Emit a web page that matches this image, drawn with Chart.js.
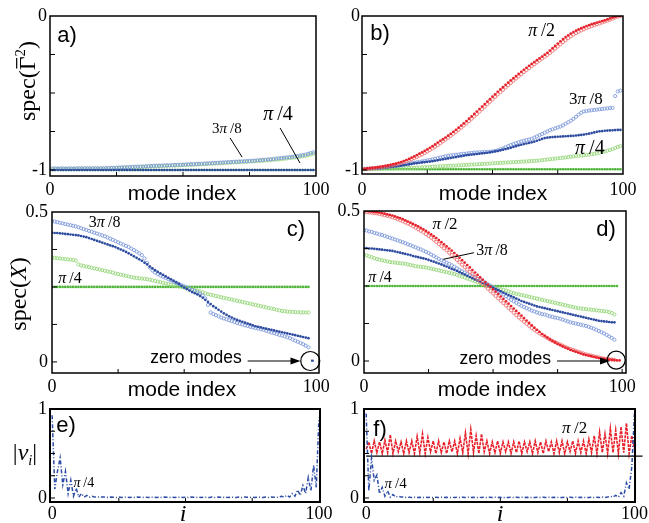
<!DOCTYPE html>
<html><head><meta charset="utf-8">
<script src="https://cdn.jsdelivr.net/npm/chart.js@4.4.0/dist/chart.umd.min.js"></script>
<style>
html,body{margin:0;padding:0;background:#fff;}
#wrap{position:relative;width:649px;height:523px;overflow:hidden;background:#fff;}
canvas{position:absolute;left:0;top:0;}
</style></head><body><div id="wrap">
<canvas id="ca" width="649" height="523"></canvas>
<canvas id="cb" width="649" height="523"></canvas>
<canvas id="cc" width="649" height="523"></canvas>
<canvas id="cd" width="649" height="523"></canvas>
<canvas id="ce" width="649" height="523"></canvas>
<canvas id="cf" width="649" height="523"></canvas>
</div>
<script>
// ---------- DATA ----------
// panel a) spec(Gamma^2), x = mode index (open markers start at 1)
const aOpenBlue = [
-0.990,-0.990,-0.990,-0.990,-0.990,-0.990,-0.990,-0.990,-0.990,-0.990,
-0.989,-0.989,-0.989,-0.989,-0.989,-0.989,-0.989,-0.989,-0.989,-0.989,
-0.988,-0.987,-0.987,-0.986,-0.985,-0.984,-0.983,-0.982,-0.982,-0.981,
-0.980,-0.979,-0.978,-0.978,-0.977,-0.976,-0.975,-0.974,-0.973,-0.972,
-0.972,-0.971,-0.970,-0.969,-0.969,-0.968,-0.967,-0.966,-0.966,-0.965,
-0.964,-0.963,-0.962,-0.962,-0.961,-0.960,-0.959,-0.958,-0.957,-0.956,
-0.955,-0.954,-0.953,-0.952,-0.951,-0.950,-0.949,-0.948,-0.947,-0.946,
-0.945,-0.944,-0.943,-0.942,-0.941,-0.940,-0.939,-0.937,-0.936,-0.934,
-0.933,-0.931,-0.930,-0.928,-0.926,-0.924,-0.922,-0.920,-0.918,-0.916,
-0.914,-0.912,-0.909,-0.906,-0.903,-0.900,-0.895,-0.890,-0.885];
const aOpenGreen = [
-0.992,-0.992,-0.992,-0.992,-0.992,-0.992,-0.992,-0.992,-0.992,-0.992,
-0.991,-0.991,-0.991,-0.991,-0.991,-0.991,-0.991,-0.991,-0.991,-0.991,
-0.990,-0.990,-0.989,-0.989,-0.988,-0.987,-0.986,-0.986,-0.985,-0.984,
-0.983,-0.982,-0.982,-0.981,-0.980,-0.979,-0.978,-0.977,-0.977,-0.976,
-0.975,-0.974,-0.974,-0.973,-0.972,-0.971,-0.971,-0.970,-0.969,-0.968,
-0.968,-0.967,-0.966,-0.965,-0.965,-0.964,-0.963,-0.962,-0.961,-0.960,
-0.959,-0.958,-0.957,-0.956,-0.955,-0.954,-0.953,-0.952,-0.951,-0.950,
-0.949,-0.948,-0.947,-0.946,-0.945,-0.944,-0.943,-0.942,-0.941,-0.940,
-0.938,-0.937,-0.935,-0.934,-0.932,-0.931,-0.929,-0.927,-0.925,-0.923,
-0.921,-0.919,-0.917,-0.914,-0.911,-0.908,-0.904,-0.900,-0.895];
const aFilledBlue = [
-1,-1,-1,-1,-1,-1,-1,-1,-1,-1,-1,-1,-1,-1,-1,-1,-1,-1,-1,-1,
-1,-1,-1,-1,-1,-1,-1,-1,-1,-1,-1,-1,-1,-1,-1,-1,-1,-1,-1,-1,
-1,-1,-1,-1,-1,-1,-1,-1,-1,-1,-1,-1,-1,-1,-1,-1,-1,-1,-1,-1,
-1,-1,-1,-1,-1,-1,-1,-1,-1,-1,-1,-1,-1,-1,-1,-1,-1,-1,-1,-1,
-1,-1,-1,-1,-1,-1,-1,-1,-1,-1,-1,-1,-1,-1,-1,-1,-1,-1,-1,-1];
const aFilledGreen = [
-1,-1,-1,-1,-1,-1,-1,-1,-1,-1,-1,-1,-1,-1,-1,-1,-1,-1,-1,-1,
-1,-1,-1,-1,-1,-1,-1,-1,-1,-1,-1,-1,-1,-1,-1,-1,-1,-1,-1,-1,
-1,-1,-1,-1,-1,-1,-1,-1,-1,-1,-1,-1,-1,-1,-1,-1,-1,-1,-1,-1,
-1,-1,-1,-1,-1,-1,-1,-1,-1,-1,-1,-1,-1,-1,-1,-1,-1,-1,-1,-1,
-1,-1,-1,-1,-1,-1,-1,-1,-1,-1,-1,-1,-1,-1,-1,-1,-1,-1,-1,-1];

// panel b)
const bRedFilled = [
-0.992,-0.990,-0.988,-0.986,-0.984,-0.982,-0.979,-0.976,-0.973,-0.970,
-0.966,-0.962,-0.958,-0.953,-0.948,-0.942,-0.935,-0.928,-0.920,-0.912,
-0.903,-0.894,-0.885,-0.876,-0.866,-0.856,-0.845,-0.834,-0.822,-0.810,
-0.800,-0.789,-0.777,-0.765,-0.752,-0.739,-0.725,-0.711,-0.697,-0.682,
-0.667,-0.652,-0.636,-0.620,-0.604,-0.588,-0.572,-0.556,-0.540,-0.524,
-0.508,-0.492,-0.477,-0.462,-0.447,-0.432,-0.418,-0.404,-0.390,-0.376,
-0.362,-0.349,-0.336,-0.323,-0.311,-0.299,-0.287,-0.275,-0.263,-0.251,
-0.239,-0.224,-0.209,-0.194,-0.179,-0.164,-0.150,-0.137,-0.125,-0.114,
-0.104,-0.095,-0.087,-0.079,-0.072,-0.065,-0.059,-0.053,-0.048,-0.043,
-0.038,-0.033,-0.028,-0.022,-0.016,-0.010,-0.005,0,0];
const bRedOpen = [
-0.994,-0.993,-0.991,-0.989,-0.987,-0.985,-0.983,-0.980,-0.977,-0.974,
-0.971,-0.967,-0.963,-0.959,-0.954,-0.949,-0.943,-0.937,-0.930,-0.923,
-0.915,-0.907,-0.898,-0.889,-0.880,-0.870,-0.860,-0.849,-0.838,-0.826,
-0.814,-0.802,-0.790,-0.778,-0.765,-0.752,-0.739,-0.725,-0.711,-0.697,
-0.682,-0.667,-0.652,-0.637,-0.621,-0.605,-0.589,-0.573,-0.557,-0.541,
-0.525,-0.509,-0.494,-0.479,-0.464,-0.449,-0.434,-0.420,-0.406,-0.392,
-0.378,-0.364,-0.351,-0.338,-0.325,-0.313,-0.301,-0.289,-0.277,-0.265,
-0.253,-0.240,-0.226,-0.212,-0.198,-0.184,-0.170,-0.157,-0.144,-0.132,
-0.121,-0.111,-0.102,-0.094,-0.086,-0.079,-0.072,-0.066,-0.060,-0.054,
-0.048,-0.042,-0.036,-0.030,-0.024,-0.017,-0.010,-0.004,0];
const bBlueOpen = [
-0.992,-0.991,-0.990,-0.989,-0.988,-0.987,-0.985,-0.983,-0.981,-0.979,
-0.977,-0.975,-0.973,-0.971,-0.968,-0.965,-0.962,-0.959,-0.956,-0.953,
-0.950,-0.947,-0.944,-0.941,-0.938,-0.935,-0.931,-0.927,-0.923,-0.919,
-0.915,-0.911,-0.907,-0.905,-0.903,-0.901,-0.899,-0.897,-0.895,-0.893,
-0.891,-0.889,-0.887,-0.886,-0.885,-0.884,-0.883,-0.882,-0.881,-0.879,
-0.876,-0.872,-0.866,-0.860,-0.852,-0.845,-0.838,-0.832,-0.826,-0.820,
-0.815,-0.810,-0.806,-0.802,-0.798,-0.790,-0.782,-0.774,-0.766,-0.758,
-0.750,-0.742,-0.736,-0.730,-0.724,-0.718,-0.710,-0.700,-0.690,-0.680,
-0.668,-0.655,-0.640,-0.628,-0.620,-0.617,-0.614,-0.612,-0.610,-0.608,
-0.606,-0.604,-0.602,-0.600,-0.598,-0.596,-0.520,-0.490,-0.485];
const bBlueFilled = [
-0.995,-0.994,-0.993,-0.992,-0.991,-0.990,-0.988,-0.986,-0.984,-0.982,
-0.980,-0.978,-0.976,-0.974,-0.972,-0.969,-0.966,-0.963,-0.960,-0.957,
-0.955,-0.953,-0.951,-0.949,-0.947,-0.945,-0.943,-0.940,-0.937,-0.934,
-0.931,-0.928,-0.925,-0.922,-0.919,-0.916,-0.913,-0.910,-0.907,-0.904,
-0.902,-0.900,-0.898,-0.896,-0.894,-0.892,-0.890,-0.888,-0.885,-0.882,
-0.879,-0.876,-0.872,-0.868,-0.864,-0.860,-0.856,-0.850,-0.845,-0.840,
-0.836,-0.832,-0.828,-0.824,-0.820,-0.816,-0.810,-0.804,-0.798,-0.793,
-0.790,-0.788,-0.786,-0.785,-0.784,-0.783,-0.782,-0.781,-0.780,-0.779,
-0.778,-0.776,-0.774,-0.772,-0.770,-0.767,-0.764,-0.760,-0.756,-0.752,
-0.749,-0.747,-0.745,-0.744,-0.743,-0.742,-0.741,-0.740,-0.740];
const bGreenOpen = [
-0.995,-0.995,-0.994,-0.994,-0.993,-0.993,-0.992,-0.992,-0.991,-0.991,
-0.990,-0.990,-0.989,-0.989,-0.988,-0.988,-0.987,-0.987,-0.986,-0.986,
-0.985,-0.984,-0.983,-0.982,-0.981,-0.980,-0.979,-0.978,-0.977,-0.976,
-0.975,-0.974,-0.973,-0.972,-0.972,-0.971,-0.970,-0.969,-0.968,-0.967,
-0.966,-0.965,-0.964,-0.963,-0.962,-0.961,-0.960,-0.959,-0.958,-0.957,
-0.956,-0.955,-0.954,-0.953,-0.952,-0.951,-0.950,-0.949,-0.948,-0.947,
-0.946,-0.945,-0.944,-0.943,-0.942,-0.941,-0.940,-0.938,-0.936,-0.934,
-0.932,-0.930,-0.928,-0.926,-0.924,-0.922,-0.920,-0.918,-0.916,-0.914,
-0.912,-0.910,-0.908,-0.906,-0.904,-0.902,-0.900,-0.898,-0.895,-0.892,
-0.888,-0.884,-0.880,-0.875,-0.870,-0.864,-0.857,-0.850,-0.845];
const bGreenFilled = [
-0.995,-0.995,-0.995,-0.995,-0.995,-0.995,-0.995,-0.995,-0.995,-0.995,
-0.995,-0.995,-0.995,-0.995,-0.995,-0.995,-0.995,-0.995,-0.995,-0.995,
-0.995,-0.995,-0.995,-0.995,-0.995,-0.995,-0.995,-0.995,-0.995,-0.995,
-0.995,-0.995,-0.995,-0.995,-0.995,-0.995,-0.995,-0.995,-0.995,-0.995,
-0.995,-0.995,-0.995,-0.995,-0.995,-0.995,-0.995,-0.995,-0.995,-0.995,
-0.995,-0.995,-0.995,-0.995,-0.995,-0.995,-0.995,-0.995,-0.995,-0.995,
-0.995,-0.995,-0.995,-0.995,-0.995,-0.995,-0.995,-0.995,-0.995,-0.995,
-0.995,-0.995,-0.995,-0.995,-0.995,-0.995,-0.995,-0.995,-0.995,-0.995,
-0.995,-0.995,-0.995,-0.995,-0.995,-0.995,-0.995,-0.995,-0.995,-0.995,
-0.995,-0.995,-0.995,-0.995,-0.995,-0.995,-0.995,-0.995,-0.995,-0.995];

// panel c) spec(X), x = 0..97
const cBlueOpen = [
0.470,0.468,0.466,0.464,0.462,0.460,0.458,0.456,0.454,0.452,
0.449,0.446,0.443,0.440,0.437,0.434,0.431,0.428,0.425,0.422,
0.419,0.415,0.411,0.407,0.403,0.399,0.395,0.391,0.387,0.383,
0.378,0.373,0.368,0.362,0.356,0.345,0.330,0.315,0.305,0.298,
0.293,0.288,0.284,0.280,0.276,0.272,0.268,0.264,0.260,0.256,
0.252,0.248,0.244,0.240,0.236,0.232,0.228,0.222,0.212,0.190,
0.165,0.160,0.156,0.152,0.148,0.145,0.142,0.139,0.136,0.133,
0.130,0.127,0.125,0.122,0.120,0.117,0.115,0.113,0.111,0.109,
0.107,0.104,0.101,0.098,0.096,0.093,0.090,0.088,0.085,0.082,
0.079,0.075,0.071,0.067,0.063,0.059,0.054,0.049];
const cBlueFilled = [
0.431,0.430,0.430,0.429,0.428,0.427,0.426,0.425,0.424,0.423,
0.422,0.420,0.418,0.416,0.413,0.410,0.407,0.404,0.401,0.398,
0.395,0.392,0.389,0.386,0.383,0.379,0.375,0.371,0.367,0.362,
0.357,0.352,0.347,0.342,0.337,0.331,0.325,0.318,0.312,0.306,
0.300,0.295,0.290,0.285,0.280,0.275,0.270,0.265,0.260,0.254,
0.248,0.243,0.238,0.233,0.229,0.225,0.220,0.214,0.207,0.200,
0.193,0.186,0.180,0.174,0.168,0.162,0.157,0.152,0.148,0.144,
0.140,0.137,0.134,0.131,0.128,0.125,0.122,0.119,0.117,0.115,
0.113,0.111,0.109,0.107,0.105,0.103,0.101,0.099,0.097,0.095,
0.093,0.091,0.089,0.087,0.085,0.083,0.081,0.079];
const cGreenOpen = [
0.348,0.347,0.346,0.345,0.344,0.343,0.342,0.341,0.340,0.338,
0.325,0.322,0.320,0.318,0.316,0.314,0.312,0.310,0.308,0.306,
0.304,0.302,0.300,0.298,0.295,0.293,0.291,0.289,0.287,0.285,
0.283,0.281,0.280,0.279,0.278,0.277,0.276,0.274,0.272,0.270,
0.268,0.266,0.264,0.262,0.260,0.258,0.256,0.254,0.252,0.250,
0.248,0.246,0.244,0.242,0.240,0.238,0.235,0.232,0.229,0.226,
0.224,0.222,0.220,0.218,0.216,0.214,0.212,0.210,0.208,0.206,
0.204,0.202,0.200,0.198,0.196,0.194,0.192,0.190,0.188,0.186,
0.184,0.182,0.180,0.178,0.176,0.174,0.172,0.170,0.169,0.168,
0.167,0.167,0.166,0.166,0.165,0.165,0.165,0.165];
const cGreenFilled = [
0.25,0.25,0.25,0.25,0.25,0.25,0.25,0.25,0.25,0.25,0.25,0.25,0.25,0.25,0.25,0.25,0.25,0.25,0.25,0.25,
0.25,0.25,0.25,0.25,0.25,0.25,0.25,0.25,0.25,0.25,0.25,0.25,0.25,0.25,0.25,0.25,0.25,0.25,0.25,0.25,
0.25,0.25,0.25,0.25,0.25,0.25,0.25,0.25,0.25,0.25,0.25,0.25,0.25,0.25,0.25,0.25,0.25,0.25,0.25,0.25,
0.25,0.25,0.25,0.25,0.25,0.25,0.25,0.25,0.25,0.25,0.25,0.25,0.25,0.25,0.25,0.25,0.25,0.25,0.25,0.25,
0.25,0.25,0.25,0.25,0.25,0.25,0.25,0.25,0.25,0.25,0.25,0.25,0.25,0.25,0.25,0.25,0.25,0.25];
const cZeroModeIdx = [98, 99];
const cZeroModeVal = [0.004, 0.004];

// panel d)
const dRedFilled = [
0.500,0.500,0.499,0.498,0.497,0.496,0.495,0.493,0.491,0.489,
0.487,0.485,0.482,0.479,0.476,0.473,0.469,0.465,0.461,0.457,
0.453,0.449,0.444,0.439,0.434,0.428,0.422,0.416,0.410,0.403,
0.396,0.389,0.382,0.375,0.368,0.360,0.352,0.344,0.336,0.328,
0.320,0.312,0.303,0.295,0.287,0.279,0.271,0.263,0.255,0.247,
0.239,0.231,0.223,0.215,0.207,0.199,0.191,0.183,0.175,0.167,
0.159,0.151,0.143,0.135,0.127,0.119,0.111,0.104,0.097,0.090,
0.084,0.078,0.072,0.067,0.062,0.057,0.053,0.049,0.045,0.041,
0.037,0.034,0.031,0.028,0.025,0.022,0.020,0.018,0.016,0.014,
0.012,0.010,0.008,0.007,0.006,0.005,0.004,0.003,0.002,0.002];
const dRedOpen = [
0.497,0.496,0.495,0.494,0.493,0.492,0.490,0.488,0.486,0.484,
0.482,0.479,0.476,0.473,0.470,0.466,0.462,0.458,0.454,0.449,
0.444,0.439,0.434,0.429,0.423,0.417,0.411,0.404,0.397,0.390,
0.383,0.376,0.369,0.361,0.353,0.345,0.337,0.329,0.321,0.313,
0.305,0.297,0.289,0.281,0.273,0.265,0.257,0.249,0.241,0.233,
0.225,0.217,0.209,0.201,0.193,0.185,0.177,0.169,0.161,0.153,
0.145,0.138,0.131,0.124,0.117,0.110,0.104,0.098,0.092,0.087,
0.082,0.077,0.072,0.067,0.063,0.059,0.055,0.051,0.047,0.043,
0.040,0.037,0.034,0.031,0.028,0.025,0.022,0.020,0.018,0.016,
0.014,0.012,0.010,0.008,0.007,0.006,0.005,0.004];
const dBlueOpen = [
0.437,0.435,0.432,0.430,0.427,0.425,0.422,0.420,0.417,0.414,
0.411,0.408,0.405,0.402,0.399,0.396,0.393,0.389,0.386,0.382,
0.379,0.375,0.372,0.368,0.364,0.360,0.355,0.350,0.345,0.340,
0.336,0.332,0.328,0.324,0.319,0.314,0.309,0.304,0.299,0.295,
0.290,0.286,0.282,0.278,0.274,0.270,0.266,0.261,0.256,0.251,
0.246,0.240,0.234,0.228,0.222,0.216,0.210,0.204,0.199,0.194,
0.189,0.184,0.180,0.176,0.172,0.168,0.165,0.162,0.159,0.156,
0.155,0.152,0.149,0.147,0.145,0.143,0.141,0.138,0.135,0.132,
0.129,0.127,0.125,0.123,0.121,0.119,0.117,0.114,0.111,0.108,
0.104,0.100,0.096,0.092,0.087,0.082,0.077,0.071];
const dBlueFilled = [
0.376,0.376,0.375,0.375,0.374,0.373,0.372,0.371,0.370,0.369,
0.368,0.367,0.365,0.363,0.361,0.359,0.357,0.355,0.353,0.350,
0.348,0.346,0.344,0.342,0.340,0.337,0.334,0.331,0.328,0.325,
0.322,0.318,0.315,0.311,0.307,0.304,0.300,0.296,0.292,0.288,
0.284,0.280,0.276,0.272,0.268,0.264,0.260,0.256,0.252,0.248,
0.244,0.240,0.236,0.232,0.228,0.224,0.220,0.216,0.212,0.208,
0.204,0.200,0.197,0.194,0.191,0.188,0.185,0.182,0.180,0.178,
0.176,0.174,0.172,0.170,0.168,0.166,0.164,0.162,0.160,0.158,
0.156,0.154,0.152,0.150,0.148,0.146,0.144,0.142,0.140,0.138,
0.136,0.134,0.133,0.132,0.131,0.130,0.129,0.129];
const dGreenOpen = [
0.355,0.352,0.349,0.346,0.343,0.340,0.338,0.336,0.334,0.332,
0.330,0.329,0.328,0.327,0.326,0.325,0.324,0.322,0.320,0.318,
0.316,0.315,0.314,0.313,0.312,0.310,0.308,0.306,0.304,0.302,
0.300,0.298,0.296,0.294,0.292,0.290,0.287,0.284,0.281,0.278,
0.275,0.272,0.269,0.266,0.263,0.260,0.257,0.254,0.251,0.248,
0.245,0.243,0.241,0.239,0.237,0.235,0.232,0.229,0.226,0.224,
0.222,0.220,0.218,0.216,0.214,0.212,0.210,0.208,0.206,0.204,
0.202,0.200,0.198,0.196,0.194,0.192,0.190,0.188,0.186,0.184,
0.182,0.180,0.178,0.176,0.175,0.174,0.173,0.172,0.171,0.170,
0.169,0.168,0.167,0.166,0.165,0.163,0.160,0.155];
const dGreenFilled = [
0.25,0.25,0.25,0.25,0.25,0.25,0.25,0.25,0.25,0.25,0.25,0.25,0.25,0.25,0.25,0.25,0.25,0.25,0.25,0.25,
0.25,0.25,0.25,0.25,0.25,0.25,0.25,0.25,0.25,0.25,0.25,0.25,0.25,0.25,0.25,0.25,0.25,0.25,0.25,0.25,
0.25,0.25,0.25,0.25,0.25,0.25,0.25,0.25,0.25,0.25,0.25,0.25,0.25,0.25,0.25,0.25,0.25,0.25,0.25,0.25,
0.25,0.25,0.25,0.25,0.25,0.25,0.25,0.25,0.25,0.25,0.25,0.25,0.25,0.25,0.25,0.25,0.25,0.25,0.25,0.25,
0.25,0.25,0.25,0.25,0.25,0.25,0.25,0.25,0.25,0.25,0.25,0.25,0.25,0.25,0.25,0.25,0.25,0.25];

// panel e) |v_i| for pi/4, i = 0..100
const eBlue = [
0.93,0.10,0.30,0.45,0.15,0.30,0.05,0.20,0.02,0.11,
0.01,0.05,0.01,0.03,0.01,0.02,0.01,0.01,0.01,0.01,
0.010,0.006,0.010,0.008,0.006,0.010,0.006,0.010,0.008,0.006,
0.010,0.006,0.010,0.008,0.006,0.010,0.006,0.010,0.008,0.006,
0.010,0.006,0.010,0.008,0.006,0.010,0.006,0.010,0.008,0.006,
0.010,0.006,0.010,0.008,0.006,0.010,0.006,0.010,0.008,0.006,
0.010,0.006,0.010,0.008,0.006,0.010,0.006,0.010,0.008,0.006,
0.010,0.006,0.010,0.008,0.006,0.010,0.006,0.010,0.008,0.006,
0.010,0.006,0.010,0.008,0.006,0.01,0.02,0.01,0.03,0.01,
0.05,0.02,0.09,0.03,0.14,0.05,0.23,0.08,0.37,0.12,
0.90];
// panel f) |v_i| for pi/4 (blue) and pi/2 (red)
const fBlue = [
0.95,0.08,0.45,0.20,0.26,0.05,0.12,0.02,0.08,0.01,
0.04,0.01,0.02,0.01,0.01,0.005,0.008,0.005,0.008,0.005,
0.008,0.005,0.008,0.005,0.008,0.005,0.008,0.005,0.008,0.005,
0.008,0.005,0.008,0.005,0.008,0.005,0.008,0.005,0.008,0.005,
0.008,0.005,0.008,0.005,0.008,0.005,0.008,0.005,0.008,0.005,
0.008,0.005,0.008,0.005,0.008,0.005,0.008,0.005,0.008,0.005,
0.008,0.005,0.008,0.005,0.008,0.005,0.008,0.005,0.008,0.005,
0.008,0.005,0.008,0.005,0.008,0.005,0.008,0.005,0.008,0.005,
0.008,0.005,0.008,0.005,0.008,0.005,0.008,0.005,0.01,0.005,
0.01,0.02,0.01,0.03,0.01,0.06,0.02,0.17,0.10,0.35,
0.95];
const fRed = [
0.55,0.63,0.50,0.64,0.51,0.63,0.50,0.65,0.51,0.71,
0.50,0.64,0.52,0.63,0.50,0.64,0.51,0.64,0.50,0.69,
0.51,0.72,0.50,0.68,0.52,0.64,0.50,0.64,0.51,0.63,
0.50,0.64,0.52,0.64,0.50,0.67,0.51,0.73,0.50,0.77,
0.51,0.70,0.50,0.72,0.52,0.64,0.50,0.63,0.51,0.64,
0.50,0.63,0.52,0.63,0.50,0.63,0.51,0.64,0.50,0.63,
0.52,0.63,0.50,0.64,0.51,0.63,0.50,0.64,0.52,0.63,
0.50,0.64,0.51,0.64,0.50,0.63,0.52,0.64,0.50,0.64,
0.51,0.64,0.50,0.66,0.51,0.70,0.50,0.74,0.51,0.72,
0.50,0.78,0.51,0.76,0.50,0.80,0.51,0.84,0.50,0.70,
0.55];
const fHalfLevel = 0.47;

// tick values
const xTickVals = [0, 25, 50, 75, 100];
const xTickLabels = {0: '0', 100: '100'};
const ySpecGTicks = [-1, -0.75, -0.5, -0.25, 0];
const ySpecGLabels = {'-1': '-1', '0': '0'};
const ySpecXTicks = [0, 0.125, 0.25, 0.375, 0.5];
const ySpecXLabels = {'0': '0', '0.5': '0.5'};
const yVTicks = [0, 0.25, 0.5, 0.75, 1];
const yVLabels = {'0': '0', '1': '1'};

// ---------- RENDERING ----------
const SERIF = '"Liberation Serif","Times New Roman",serif';
const SANS = '"Liberation Sans",Arial,Helvetica,sans-serif';
const C = {blueF:'#2d4b9f', blueO:'#7a96da', greenF:'#4fb63a', greenO:'#93d677', redF:'#e6212b', redO:'#ef6b6b'};

function pts(vals, x0){ return vals.map((v,i)=>({x:i+x0, y:v})); }
function dots(vals, x0, color){
  return {data:pts(vals,x0), showLine:false, pointStyle:'circle', pointRadius:1.35,
    pointBorderWidth:0, pointBackgroundColor:color, pointBorderColor:color};
}
function rings(vals, x0, color){
  return {data:pts(vals,x0), showLine:false, pointStyle:'circle', pointRadius:1.6,
    pointBorderWidth:0.85, pointBackgroundColor:'rgba(0,0,0,0)', pointBorderColor:color};
}
function curve(vals, color, dash, w){
  return {data:pts(vals,0), showLine:true, pointRadius:0, borderColor:color, borderWidth:w,
    borderDash:dash, tension:0, fill:false};
}

function rich(ctx, parts, cx, cy, size, rot){
  ctx.save();
  ctx.translate(cx, cy); if (rot) ctx.rotate(rot);
  ctx.fillStyle = '#000'; ctx.textBaseline = 'alphabetic'; ctx.textAlign = 'left';
  const fonts = parts.map(p => (p.i ? 'italic ' : '') + (size*(p.s||1)) + 'px ' + (p.f||SERIF));
  let w = 0;
  const ws = parts.map((p,k) => { ctx.font = fonts[k]; const m = ctx.measureText(p.t).width; w += m; return m; });
  let x = -w/2; const base = size*0.33;
  parts.forEach((p,k) => {
    ctx.font = fonts[k];
    ctx.fillText(p.t, x, base + (p.dy||0)*size);
    if (p.bar) { ctx.strokeStyle='#000'; ctx.lineWidth = 1.2; ctx.beginPath();
      ctx.moveTo(x+size*0.08, base - size*0.76); ctx.lineTo(x+ws[k]-size*0.06, base - size*0.76); ctx.stroke(); }
    x += ws[k];
  });
  ctx.restore();
}
function pi(pre, post){ const a=[]; if(pre) a.push({t:pre}); a.push({t:'\u03C0', i:true}); a.push({t:'\u2009/'+post}); return a; }
function sans(ctx, s, px, py, size, align){
  ctx.save(); ctx.fillStyle='#000'; ctx.font = size+'px '+SANS; ctx.textAlign = align||'center';
  ctx.textBaseline='middle'; ctx.fillText(s, px, py); ctx.restore();
}
function seg(ctx, x1, y1, x2, y2, w){ ctx.save(); ctx.strokeStyle='#000'; ctx.lineWidth=w||1; ctx.beginPath(); ctx.moveTo(x1,y1); ctx.lineTo(x2,y2); ctx.stroke(); ctx.restore(); }
function arrow(ctx, x1, x2, y){
  seg(ctx, x1, y, x2-6, y, 1.2);
  ctx.save(); ctx.fillStyle='#000'; ctx.beginPath(); ctx.moveTo(x2, y); ctx.lineTo(x2-10, y-3.5); ctx.lineTo(x2-10, y+3.5); ctx.closePath(); ctx.fill(); ctx.restore();
}
function circ(ctx, cx, cy, r){ ctx.save(); ctx.strokeStyle='#000'; ctx.lineWidth=1.2; ctx.beginPath(); ctx.arc(cx,cy,r,0,Math.PI*2); ctx.stroke(); ctx.restore(); }

function makeChart(p){
  const W = 649, H = 523, yw = 44, xh = 24;
  const lab = (m, v) => { for (const k in m) { if (Math.abs(parseFloat(k) - v) < 1e-9) return m[k]; } return ''; };
  const frame = {
    id: 'frame'+p.id,
    afterDraw(chart){
      const ctx = chart.ctx, a = chart.chartArea, xs = chart.scales.x, ys = chart.scales.y;
      ctx.save();
      ctx.strokeStyle = '#000'; ctx.lineWidth = p.fw;
      ctx.strokeRect(a.left, a.top, a.right - a.left, a.bottom - a.top);
      ctx.lineWidth = 1;
      p.xTicks.forEach(v => { const px = xs.getPixelForValue(v);
        if (px - a.left < 3 || a.right - px < 3) return;
        ctx.beginPath(); ctx.moveTo(px, a.bottom); ctx.lineTo(px, a.bottom - 4); ctx.stroke(); });
      p.yTicks.forEach(v => { const py = ys.getPixelForValue(v);
        if (py - a.top < 3 || a.bottom - py < 3) return;
        ctx.beginPath(); ctx.moveTo(a.left, py); ctx.lineTo(a.left + 5, py); ctx.stroke(); });
      ctx.restore();
      p.draw(ctx, v => xs.getPixelForValue(v), v => ys.getPixelForValue(v));
    }
  };
  return new Chart(document.getElementById(p.id), {
    type: 'scatter',
    data: {datasets: p.datasets},
    options: {
      responsive: false, animation: false, devicePixelRatio: 1, events: [],
      layout: {padding: {left: p.L - yw, top: p.T, right: W - p.R, bottom: H - p.B - xh}},
      plugins: {legend: {display: false}, tooltip: {enabled: false}},
      scales: {
        x: {type: 'linear', position: 'bottom', min: p.xmin, max: p.xmax,
          grid: {display: false, drawTicks: false}, border: {display: false},
          afterBuildTicks: s => { s.ticks = p.xTicks.map(v => ({value: v})); },
          afterFit: s => { s.height = xh; },
          ticks: {autoSkip: false, maxRotation: 0, minRotation: 0, padding: p.xPad, color: '#000',
            font: {family: SERIF, size: 18}, callback: v => lab(p.xLabels, v)}},
        y: {type: 'linear', position: 'left', min: p.ymin, max: p.ymax,
          grid: {display: false, drawTicks: false}, border: {display: false},
          afterBuildTicks: s => { s.ticks = p.yTicks.map(v => ({value: v})); },
          afterFit: s => { s.width = yw; },
          ticks: {autoSkip: false, padding: p.yPad, color: '#000',
            font: {family: SERIF, size: 18}, callback: v => lab(p.yLabels, v)}}
      }
    },
    plugins: [frame]
  });
}

// a)
makeChart({id:'ca', L:50, T:16, R:316, B:176, xmin:0, xmax:100, ymin:-1.039, ymax:0,
  xTicks:xTickVals, xLabels:xTickLabels, yTicks:ySpecGTicks, yLabels:ySpecGLabels, xPad:3, yPad:3, fw:1.5,
  datasets:[dots(aFilledBlue,0,C.blueF), rings(aOpenBlue,1,C.blueO), rings(aOpenGreen,1,C.greenO), dots(aFilledGreen,0,C.greenF)],
  draw:(ctx,X,Y)=>{
    sans(ctx,'a)',67,36,22);
    rich(ctx, pi('3','8'), X(66.5), Y(-0.727), 15);
    rich(ctx, pi('','4'), X(85.7), Y(-0.63), 20);
    seg(ctx, X(67.7), Y(-0.792), X(72.2), Y(-0.916));
    seg(ctx, X(86.5), Y(-0.727), X(94), Y(-0.955));
    sans(ctx,'mode index',182,194,21);
    rich(ctx, [{t:'spec('},{t:'\u0393',bar:true},{t:'2',s:0.62,dy:-0.42},{t:')'}], 27, 81, 24, -Math.PI/2);
  }});
// b)
makeChart({id:'cb', L:362, T:16, R:623, B:174, xmin:0, xmax:100, ymin:-1.026, ymax:0,
  xTicks:xTickVals, xLabels:xTickLabels, yTicks:ySpecGTicks, yLabels:ySpecGLabels, xPad:5, yPad:2, fw:1.5,
  datasets:[dots(bRedFilled,1,C.redF), rings(bRedOpen,1,C.redO), dots(bBlueFilled,1,C.blueF), rings(bBlueOpen,1,C.blueO),
    rings(bGreenOpen,1,C.greenO), dots(bGreenFilled,0,C.greenF)],
  draw:(ctx,X,Y)=>{
    sans(ctx,'b)',380,34,22);
    rich(ctx, pi('','2'), X(68.8), Y(-0.091), 18);
    rich(ctx, pi('3','8'), X(85.8), Y(-0.532), 17);
    rich(ctx, pi('','4'), X(87.3), Y(-0.851), 20);
    sans(ctx,'mode index',493,194,21);
  }});
// c)
makeChart({id:'cc', L:52, T:212, R:319, B:373, xmin:0, xmax:101, ymin:-0.037, ymax:0.5,
  xTicks:xTickVals, xLabels:xTickLabels, yTicks:ySpecXTicks, yLabels:ySpecXLabels, xPad:3, yPad:4, fw:1.5,
  datasets:[dots(cBlueFilled,0,C.blueF), rings(cBlueOpen,0,C.blueO), rings(cGreenOpen,0,C.greenO), dots(cGreenFilled,0,C.greenF),
    {data:cZeroModeIdx.map((x,i)=>({x:x,y:cZeroModeVal[i]})), showLine:true, borderColor:C.blueF, borderWidth:2.2, pointRadius:0}],
  draw:(ctx,X,Y)=>{
    sans(ctx,'c)',296,230,22);
    rich(ctx, pi('3','8'), X(19.9), Y(0.466), 16);
    rich(ctx, pi('','4'), X(6.8), Y(0.282), 16);
    sans(ctx,'zero modes',X(54.5),Y(0.013),17.5);
    arrow(ctx, X(74), X(94), Y(0.003));
    circ(ctx, X(97.7), Y(0.003), 9.5);
    sans(ctx,'mode index',182,390,21);
    rich(ctx, [{t:'spec('},{t:'X',i:true},{t:')'}], 18, 294, 24, -Math.PI/2);
  }});
// d)
makeChart({id:'cd', L:364, T:211, R:626, B:373, xmin:0, xmax:101.5, ymin:-0.04, ymax:0.5,
  xTicks:xTickVals, xLabels:xTickLabels, yTicks:ySpecXTicks, yLabels:ySpecXLabels, xPad:3, yPad:4, fw:1.5,
  datasets:[dots(dRedFilled,0,C.redF), rings(dRedOpen,0,C.redO), dots(dBlueFilled,0,C.blueF), rings(dBlueOpen,0,C.blueO),
    rings(dGreenOpen,0,C.greenO), dots(dGreenFilled,1,C.greenF)],
  draw:(ctx,X,Y)=>{
    sans(ctx,'d)',606,230,22);
    rich(ctx, pi('','2'), X(31.4), Y(0.46), 17);
    rich(ctx, pi('3','8'), X(49.6), Y(0.37), 16);
    seg(ctx, X(30.7), Y(0.339), X(42.6), Y(0.361));
    rich(ctx, pi('','4'), X(6.2), Y(0.28), 16);
    sans(ctx,'zero modes',X(54.7),Y(0.007),17.5);
    arrow(ctx, X(74.8), X(95.3), Y(0.0));
    circ(ctx, X(97.7), Y(0.003), 9);
    sans(ctx,'mode index',492,390,21);
  }});
// e)
makeChart({id:'ce', L:50, T:409, R:320, B:502, xmin:-0.8, xmax:100.4, ymin:-0.045, ymax:1,
  xTicks:xTickVals, xLabels:xTickLabels, yTicks:yVTicks, yLabels:yVLabels, xPad:1, yPad:3, fw:2,
  datasets:[curve(eBlue, '#2c4ca6', [4,2,1,2], 1.5)],
  draw:(ctx,X,Y)=>{
    sans(ctx,'e)',66,426,22);
    rich(ctx, pi('','4'), X(11.9), Y(0.17), 14);
    rich(ctx, [{t:'|'},{t:'v',i:true},{t:'i',i:true,s:0.6,dy:0.22},{t:'|'}], 25, 452, 24);
    rich(ctx, [{t:'i',i:true}], 183, 513, 24);
  }});
// f)
makeChart({id:'cf', L:364, T:409, R:638, B:502, xmin:-0.8, xmax:100.2, ymin:-0.045, ymax:1,
  xTicks:xTickVals, xLabels:xTickLabels, yTicks:yVTicks, yLabels:yVLabels, xPad:1, yPad:5, fw:2,
  datasets:[curve(fBlue, '#2c4ca6', [4,2,1,2], 1.5),
    {data:[{x:0,y:fHalfLevel},{x:103,y:fHalfLevel}], showLine:true, pointRadius:0, borderColor:'#000', borderWidth:1.3, clip:false},
    curve(fRed, '#e8202a', [3,1], 1.6)],
  draw:(ctx,X,Y)=>{
    sans(ctx,'f)',380,430,22);
    rich(ctx, pi('','2'), X(77.7), Y(0.79), 17);
    rich(ctx, pi('','4'), X(11), Y(0.17), 15);
    rich(ctx, [{t:'i',i:true}], 500, 513, 24);
  }});
</script>
</body></html>
